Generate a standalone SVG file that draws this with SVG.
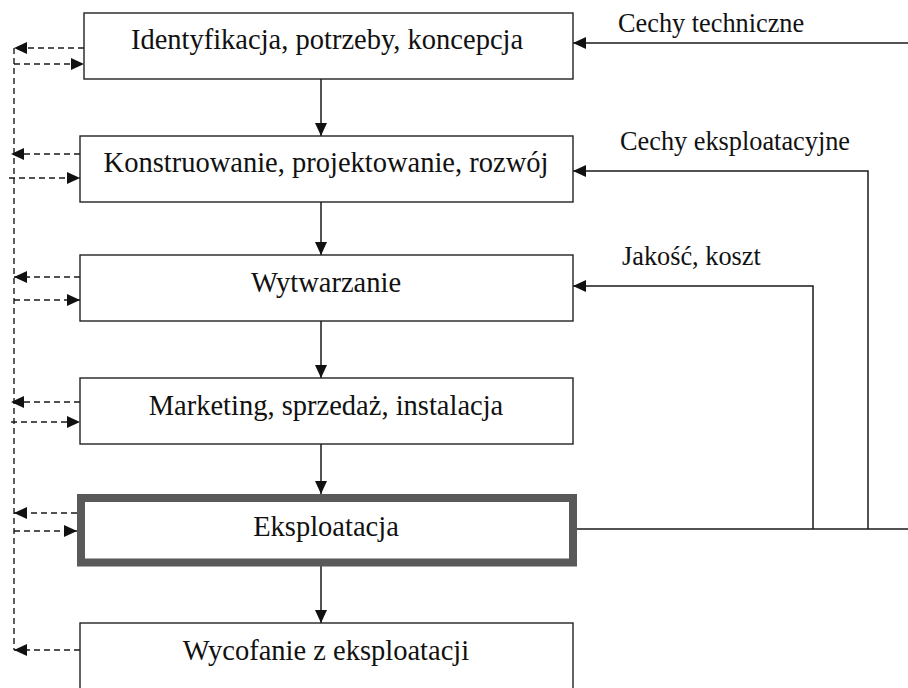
<svg xmlns="http://www.w3.org/2000/svg" width="908" height="688" viewBox="0 0 908 688">
  <style>
    .box { fill: #fff; stroke: #222; stroke-width: 1.4; }
    .thick { fill: #fff; stroke: #595959; stroke-width: 8; }
    .t { font-family: "Liberation Serif", "DejaVu Serif", serif; font-size: 28.5px; fill: #111; text-anchor: middle; }
    .lbl { font-family: "Liberation Serif", "DejaVu Serif", serif; font-size: 26.3px; fill: #111; }
    .solid { fill: none; stroke: #1a1a1a; stroke-width: 1.5; }
    .dash { fill: none; stroke: #1a1a1a; stroke-width: 1.4; stroke-dasharray: 6 4; }
  </style>
  <defs>
    <marker id="ah" markerUnits="userSpaceOnUse" markerWidth="14" markerHeight="13" refX="13" refY="6.5" orient="auto">
      <path d="M0,0.5 L13,6.5 L0,12.5 z" fill="#111"/>
    </marker>
  </defs>
  <rect width="908" height="688" fill="#fff"/>

  <g id="connectors">
    <line class="solid" x1="321" y1="79" x2="321" y2="136" marker-end="url(#ah)"/>
    <line class="solid" x1="321" y1="202" x2="321" y2="255" marker-end="url(#ah)"/>
    <line class="solid" x1="321" y1="321" x2="321" y2="378" marker-end="url(#ah)"/>
    <line class="solid" x1="321" y1="444" x2="321" y2="494" marker-end="url(#ah)"/>
    <line class="solid" x1="321" y1="566" x2="321" y2="623" marker-end="url(#ah)"/>
    <line class="solid" x1="908" y1="43" x2="573" y2="43" marker-end="url(#ah)"/>
    <polyline class="solid" points="868,529 868,171 573,171" marker-end="url(#ah)"/>
    <polyline class="solid" points="813,529 813,286 573,286" marker-end="url(#ah)"/>
    <line class="solid" x1="577" y1="529" x2="908" y2="529"/>
    <line class="dash" x1="14" y1="48" x2="14" y2="650"/>
    <line class="dash" x1="84" y1="48" x2="14" y2="48" marker-end="url(#ah)"/>
    <line class="dash" x1="14" y1="64" x2="84" y2="64" marker-end="url(#ah)"/>
    <line class="dash" x1="80" y1="154" x2="11" y2="154" marker-end="url(#ah)"/>
    <line class="dash" x1="9" y1="178" x2="80" y2="178" marker-end="url(#ah)"/>
    <line class="dash" x1="80" y1="277" x2="14" y2="277" marker-end="url(#ah)"/>
    <line class="dash" x1="14" y1="300" x2="80" y2="300" marker-end="url(#ah)"/>
    <line class="dash" x1="80" y1="402" x2="11" y2="402" marker-end="url(#ah)"/>
    <line class="dash" x1="11" y1="422" x2="80" y2="422" marker-end="url(#ah)"/>
    <line class="dash" x1="77" y1="513" x2="14" y2="513" marker-end="url(#ah)"/>
    <line class="dash" x1="14" y1="531" x2="77" y2="531" marker-end="url(#ah)"/>
    <line class="dash" x1="80" y1="650" x2="14" y2="650" marker-end="url(#ah)"/>
  </g>

  <g id="n1">
    <rect class="box" x="84" y="13" width="489" height="66"/>
    <text class="t" x="327" y="49">Identyfikacja, potrzeby, koncepcja</text>
  </g>
  <g id="n2">
    <rect class="box" x="80" y="136" width="493" height="66"/>
    <text class="t" x="326" y="172">Konstruowanie, projektowanie, rozwój</text>
  </g>
  <g id="n3">
    <rect class="box" x="80" y="255" width="493" height="66"/>
    <text class="t" x="326" y="292">Wytwarzanie</text>
  </g>
  <g id="n4">
    <rect class="box" x="80" y="378" width="493" height="66"/>
    <text class="t" x="326" y="415">Marketing, sprzedaż, instalacja</text>
  </g>
  <g id="n5">
    <rect class="thick" x="81" y="498" width="492" height="64.5"/>
    <text class="t" x="326" y="536">Eksploatacja</text>
  </g>
  <g id="n6">
    <rect class="box" x="80" y="623" width="493" height="80"/>
    <text class="t" x="326" y="660">Wycofanie z eksploatacji</text>
  </g>

  <g id="labels">
    <text class="lbl" x="618" y="32">Cechy techniczne</text>
    <text class="lbl" x="620" y="150">Cechy eksploatacyjne</text>
    <text class="lbl" x="622" y="265">Jakość, koszt</text>
  </g>
</svg>
